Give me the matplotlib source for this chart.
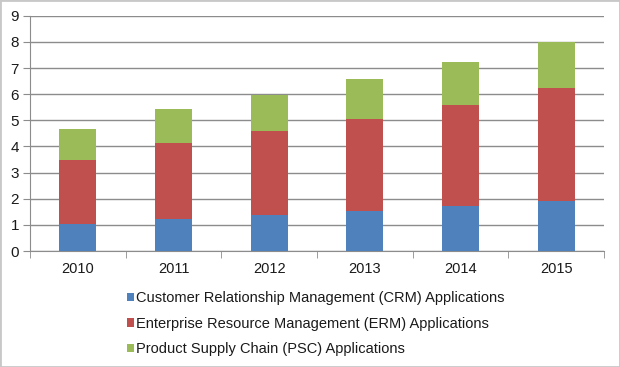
import matplotlib
matplotlib.use("Agg")
import matplotlib.pyplot as plt
import numpy as np
from matplotlib.patches import Rectangle

years = ["2010", "2011", "2012", "2013", "2014", "2015"]
crm = [1.05, 1.21, 1.36, 1.53, 1.71, 1.92]
erm = [2.45, 2.93, 3.23, 3.54, 3.88, 4.30]
psc = [1.15, 1.28, 1.39, 1.52, 1.66, 1.78]
series_names = [
    "Customer Relationship Management (CRM) Applications",
    "Enterprise Resource Management (ERM) Applications",
    "Product Supply Chain (PSC) Applications",
]
colors = ["#4F81BD", "#C0504D", "#9BBB59"]
yticks = [0, 1, 2, 3, 4, 5, 6, 7, 8, 9]

plt.rcParams['font.family'] = ['Liberation Sans', 'DejaVu Sans']

fig = plt.figure(figsize=(6.2, 3.67), dpi=100)
fig.patch.set_facecolor("white")
ax = fig.add_axes([0.0484, 0.316, 0.9258, 0.641])

x = np.arange(len(years))
w = 0.39
b1 = ax.bar(x, crm, w, color=colors[0], label=series_names[0], zorder=3)
bottom2 = np.array(crm)
b2 = ax.bar(x, erm, w, bottom=bottom2, color=colors[1], label=series_names[1], zorder=3)
bottom3 = bottom2 + np.array(erm)
b3 = ax.bar(x, psc, w, bottom=bottom3, color=colors[2], label=series_names[2], zorder=3)

ax.set_xlim(-0.5, len(years) - 0.5)
ax.set_ylim(0, 9)
ax.set_yticks(yticks)
ax.yaxis.grid(True, color="#8c8c8c", linewidth=1.0, zorder=0)
ax.set_axisbelow(True)

gc = "#8c8c8c"
for s in ["top", "right"]:
    ax.spines[s].set_visible(False)
ax.spines["left"].set_color(gc)
ax.spines["bottom"].set_color(gc)

ax.set_xticks(x)
ax.set_xticklabels(years)
ax.set_xticks(np.arange(-0.5, len(years), 1.0), minor=True)
ax.tick_params(axis="x", which="major", length=0, pad=8, labelsize=10.5, labelcolor="#1a1a1a")
ax.tick_params(axis="x", which="minor", length=5, color=gc, direction="out")
ax.tick_params(axis="y", length=5, color=gc, labelsize=11, pad=3, labelcolor="#1a1a1a")

leg = fig.legend(handles=[b1, b2, b3], labels=series_names, loc="upper left",
                 bbox_to_anchor=(0.2044, 0.207), frameon=False, fontsize=10.5,
                 handlelength=0.5, handleheight=0.5, handletextpad=0.12,
                 labelspacing=0.79, borderpad=0, borderaxespad=0)
for t in leg.get_texts():
    t.set_color("#1a1a1a")

fig.add_artist(Rectangle((0, 0), 1, 1, transform=fig.transFigure, fill=False,
                         edgecolor="#c8c8c8", linewidth=2))

fig.savefig("out.png", dpi=100, facecolor="white")
